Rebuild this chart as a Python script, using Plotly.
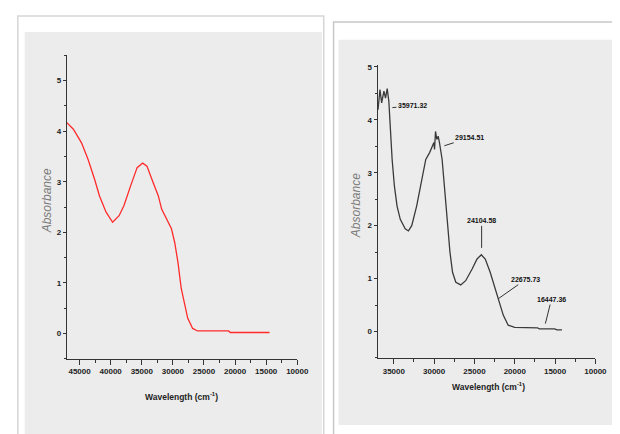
import plotly.graph_objects as go

# ---- data: left panel (red spectrum) ----
left_wavenumber = [47050, 46000, 44690, 43630, 42590, 41800, 40740, 39690, 38650, 37860,
                   36800, 35750, 34860, 34170, 33380, 32340, 31810, 30760, 30230, 29710,
                   29190, 28660, 28130, 27610, 26820, 26030, 21040, 20770, 14460]
left_absorbance = [4.17, 4.04, 3.77, 3.44, 3.05, 2.72, 2.40, 2.20, 2.33, 2.53,
                   2.92, 3.28, 3.37, 3.31, 3.05, 2.72, 2.46, 2.20, 2.07, 1.80,
                   1.41, 0.89, 0.56, 0.30, 0.10, 0.05, 0.05, 0.02, 0.02]

# ---- data: right panel (black spectrum) ----
right_wavenumber = [36960, 36720, 36510, 36230, 36030, 35820, 35620, 35420, 35210, 34930,
                    34600, 34200, 33590, 33190, 32780, 32170, 31560, 31040, 30560, 30230,
                    30030, 29950, 29830, 29670, 29500, 29340, 29010, 28730, 28330, 28040,
                    27720, 27310, 26700, 26090, 25290, 24680, 24150, 23660, 23050, 22650,
                    22040, 21430, 20820, 20010, 17180, 16970, 15070, 14750, 14140]
right_absorbance = [4.19, 4.57, 4.32, 4.54, 4.41, 4.59, 4.35, 3.69, 3.25, 2.75,
                    2.37, 2.12, 1.94, 1.90, 2.00, 2.37, 2.88, 3.25, 3.38, 3.50,
                    3.57, 3.44, 3.78, 3.63, 3.69, 3.57, 3.25, 2.75, 2.06, 1.50,
                    1.12, 0.93, 0.88, 0.96, 1.18, 1.37, 1.45, 1.37, 1.12, 0.93,
                    0.62, 0.31, 0.12, 0.08, 0.07, 0.05, 0.05, 0.03, 0.03]

peak_labels = ["35971.32", "29154.51", "24104.58", "22675.73", "16447.36"]
peak_x = [35176, 28731, 24110, 22043, 16206]
peak_y = [4.23, 3.51, 1.58, 0.62, 0.15]
peak_ax = [20, 25, 0, 27, 6]
peak_ay = [-2, -8, -27, -19, -24]

left_xticks = [45000, 40000, 35000, 30000, 25000, 20000, 15000, 10000]
right_xticks = [35000, 30000, 25000, 20000, 15000, 10000]
yticks = [0, 1, 2, 3, 4, 5]

W, H = 620, 434
def px(x): return x / W
def py(y): return 1 - y / H

FAM = "Liberation Sans Narrow, Arial Narrow, Liberation Sans, sans-serif"
TICKFONT = dict(family=FAM, size=8, color="#222", weight="bold")

fig = go.Figure()
fig.add_trace(go.Scatter(x=left_wavenumber, y=left_absorbance, mode="lines",
                         line=dict(color="#ff2a2a", width=1.3), xaxis="x", yaxis="y",
                         showlegend=False, hoverinfo="skip"))
fig.add_trace(go.Scatter(x=right_wavenumber, y=right_absorbance, mode="lines",
                         line=dict(color="#3a3a3a", width=1.3), xaxis="x2", yaxis="y2",
                         showlegend=False, hoverinfo="skip"))

def xax(domain, rng, ticks):
    return dict(domain=domain, range=rng, tickvals=ticks, ticktext=[str(t) for t in ticks],
                showline=True, linecolor="#333", linewidth=1.2, ticks="outside",
                ticklen=5, tickcolor="#333", tickwidth=1, showgrid=False, zeroline=False,
                tickfont=TICKFONT,
                minor=dict(ticks="outside", ticklen=3, tickcolor="#333", dtick=2500, tick0=0,
                           showgrid=False))

def yax(domain, rng, anchor):
    return dict(domain=domain, range=rng, tickvals=yticks, ticktext=[str(t) for t in yticks],
                showline=True, linecolor="#333", linewidth=1.2, ticks="outside",
                ticklen=3, tickcolor="#333", tickwidth=1, showgrid=False, zeroline=False,
                tickfont=TICKFONT, anchor=anchor,
                minor=dict(ticks="outside", ticklen=2, tickcolor="#333", dtick=0.5, tick0=0,
                           showgrid=False))

layout = dict(
    width=W, height=H, margin=dict(l=0, r=0, t=0, b=0),
    paper_bgcolor="white", plot_bgcolor="rgba(0,0,0,0)",
    xaxis=dict(**xax([px(60), px(295)], [47050, 10000], left_xticks), anchor="y"),
    yaxis=yax([py(350.4), py(45.6)], [-0.5, 5.5], "x"),
    xaxis2=dict(**xax([px(377), px(599)], [37000, 10000], right_xticks), anchor="y2"),
    yaxis2=yax([py(349.6), py(55)], [-0.5, 5.04], "x2"),
    shapes=[
        dict(type="rect", xref="paper", yref="paper", x0=px(10), x1=px(322), y0=py(434), y1=py(6),
             line=dict(color="#d6d6d6", width=1.5), fillcolor="white", layer="below"),
        dict(type="rect", xref="paper", yref="paper", x0=px(17), x1=px(320), y0=py(427), y1=py(22),
             line=dict(width=0), fillcolor="#ececec", layer="below"),
        dict(type="rect", xref="paper", yref="paper", x0=px(332), x1=px(621), y0=py(430), y1=py(12),
             line=dict(color="#c8c8c8", width=1.5), fillcolor="white", layer="below"),
        dict(type="rect", xref="paper", yref="paper", x0=px(337), x1=px(621), y0=py(417), y1=py(30),
             line=dict(width=0), fillcolor="#ececec", layer="below"),
    ],
)
fig.update_layout(**layout)

TITLEFONT = dict(family=FAM, size=8.5, color="#222", weight="bold")
YTFONT = dict(family=FAM, size=12, color="#7a7a7a", style="italic")
ann = [
    dict(text="Wavelength (cm<sup>-1</sup>)", x=px(177), y=py(388), xref="paper", yref="paper",
         showarrow=False, font=TITLEFONT, xanchor="center", yanchor="middle"),
    dict(text="Absorbance", x=px(40), y=py(192), xref="paper", yref="paper", textangle=-90,
         showarrow=False, font=YTFONT, xanchor="center", yanchor="middle"),
    dict(text="Wavelength (cm<sup>-1</sup>)", x=px(490), y=py(378), xref="paper", yref="paper",
         showarrow=False, font=TITLEFONT, xanchor="center", yanchor="middle"),
    dict(text="Absorbance", x=px(355), y=py(197), xref="paper", yref="paper", textangle=-90,
         showarrow=False, font=YTFONT, xanchor="center", yanchor="middle"),
]
for lab, xv, yv, axo, ayo in zip(peak_labels, peak_x, peak_y, peak_ax, peak_ay):
    ann.append(dict(text=lab, x=xv, y=yv, xref="x2", yref="y2", showarrow=True, arrowhead=0,
                    arrowwidth=1, arrowcolor="#333", ax=axo, ay=ayo,
                    font=dict(family=FAM, size=7, color="#111", weight="bold")))
fig.update_layout(annotations=ann)

fig.write_html("out.html")
